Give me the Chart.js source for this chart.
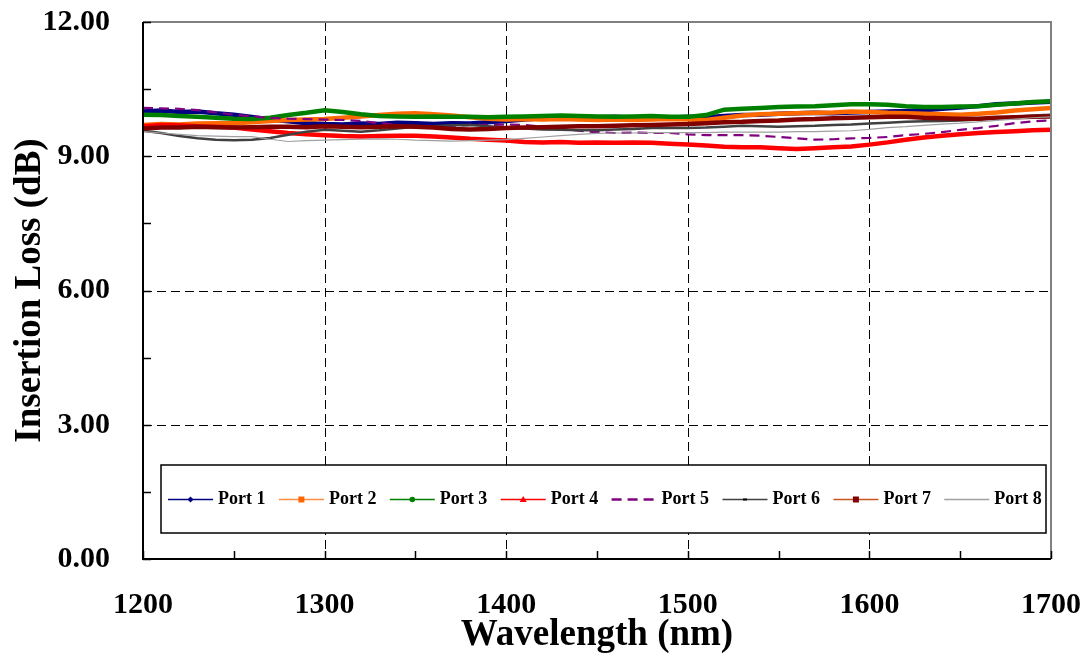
<!DOCTYPE html>
<html lang="en">
<head>
<meta charset="UTF-8">
<title>Insertion Loss vs Wavelength</title>
<style>
  html, body { margin: 0; padding: 0; background: #fff; }
  #wrap { width: 1088px; height: 659px; }
</style>
</head>
<body>
<div id="wrap"><canvas id="chart" width="1088" height="659"></canvas></div>
<script src="https://cdn.jsdelivr.net/npm/chart.js@4.4.0/dist/chart.umd.min.js"></script>
<script>
// wavelength samples (nm)
const wavelengths = [1200, 1210, 1220, 1230, 1240, 1250, 1260, 1270, 1280, 1290,
  1300, 1310, 1320, 1330, 1340, 1350, 1360, 1370, 1380, 1390,
  1400, 1410, 1420, 1430, 1440, 1450, 1460, 1470, 1480, 1490,
  1500, 1510, 1520, 1530, 1540, 1550, 1560, 1570, 1580, 1590,
  1600, 1610, 1620, 1630, 1640, 1650, 1660, 1670, 1680, 1690, 1700];

// insertion loss per port (dB)
const port1 = [10.00, 10.02, 9.99, 10.00, 9.96, 9.93, 9.88, 9.82, 9.78, 9.74,
  9.72, 9.71, 9.73, 9.72, 9.75, 9.74, 9.72, 9.74, 9.73, 9.76,
  9.79, 9.82, 9.85, 9.86, 9.88, 9.87, 9.88, 9.86, 9.87, 9.86,
  9.88, 9.87, 9.90, 9.92, 9.93, 9.95, 9.96, 9.97, 9.96, 9.98,
  9.99, 10.00, 10.01, 10.03, 10.06, 10.09, 10.12, 10.16, 10.18, 10.20, 10.22];
const port2 = [9.70, 9.72, 9.71, 9.73, 9.74, 9.74, 9.76, 9.79, 9.81, 9.82,
  9.83, 9.86, 9.89, 9.92, 9.95, 9.96, 9.94, 9.91, 9.87, 9.84,
  9.82, 9.83, 9.82, 9.83, 9.82, 9.81, 9.82, 9.81, 9.82, 9.83,
  9.82, 9.81, 9.86, 9.91, 9.94, 9.95, 9.96, 9.97, 9.98, 10.00,
  9.99, 9.97, 9.96, 9.95, 9.94, 9.93, 9.95, 9.98, 10.02, 10.05, 10.08];
const port3 = [9.93, 9.92, 9.90, 9.88, 9.86, 9.84, 9.83, 9.86, 9.92, 9.97,
  10.03, 9.99, 9.94, 9.90, 9.89, 9.88, 9.89, 9.88, 9.88, 9.87,
  9.88, 9.89, 9.90, 9.91, 9.90, 9.89, 9.88, 9.89, 9.90, 9.88,
  9.88, 9.92, 10.04, 10.06, 10.08, 10.10, 10.11, 10.12, 10.14, 10.16,
  10.16, 10.15, 10.12, 10.10, 10.10, 10.11, 10.12, 10.15, 10.18, 10.21, 10.23];
const port4 = [9.67, 9.70, 9.69, 9.67, 9.66, 9.64, 9.60, 9.56, 9.52, 9.49,
  9.47, 9.45, 9.44, 9.45, 9.46, 9.46, 9.44, 9.42, 9.39, 9.37,
  9.35, 9.32, 9.31, 9.32, 9.30, 9.31, 9.30, 9.31, 9.30, 9.28,
  9.26, 9.24, 9.21, 9.20, 9.20, 9.18, 9.16, 9.18, 9.20, 9.22,
  9.26, 9.31, 9.37, 9.42, 9.46, 9.49, 9.52, 9.54, 9.56, 9.58, 9.59];
const port5 = [10.08, 10.07, 10.06, 10.03, 9.98, 9.93, 9.89, 9.86, 9.84, 9.83,
  9.82, 9.81, 9.79, 9.74, 9.70, 9.64, 9.66, 9.68, 9.70, 9.70,
  9.71, 9.70, 9.66, 9.61, 9.57, 9.54, 9.52, 9.53, 9.52, 9.52,
  9.49, 9.47, 9.47, 9.47, 9.46, 9.43, 9.40, 9.37, 9.38, 9.40,
  9.41, 9.43, 9.47, 9.50, 9.54, 9.59, 9.63, 9.68, 9.74, 9.78, 9.80];
const port6 = [9.57, 9.52, 9.45, 9.40, 9.37, 9.36, 9.37, 9.41, 9.48, 9.55,
  9.59, 9.57, 9.55, 9.58, 9.62, 9.66, 9.67, 9.69, 9.70, 9.67,
  9.64, 9.62, 9.60, 9.59, 9.58, 9.58, 9.60, 9.61, 9.63, 9.63,
  9.63, 9.64, 9.66, 9.68, 9.67, 9.66, 9.67, 9.68, 9.70, 9.71,
  9.73, 9.75, 9.77, 9.78, 9.79, 9.80, 9.82, 9.85, 9.88, 9.91, 9.93];
const port7 = [9.62, 9.64, 9.64, 9.66, 9.65, 9.64, 9.65, 9.66, 9.66, 9.65,
  9.67, 9.66, 9.65, 9.66, 9.67, 9.66, 9.64, 9.61, 9.60, 9.61,
  9.63, 9.64, 9.65, 9.66, 9.67, 9.67, 9.68, 9.69, 9.70, 9.71,
  9.72, 9.74, 9.76, 9.77, 9.79, 9.80, 9.82, 9.83, 9.85, 9.86,
  9.87, 9.88, 9.88, 9.86, 9.85, 9.84, 9.84, 9.86, 9.87, 9.88, 9.89];
const port8 = [9.55, 9.52, 9.49, 9.46, 9.45, 9.44, 9.44, 9.38, 9.33, 9.35,
  9.36, 9.37, 9.38, 9.39, 9.38, 9.36, 9.35, 9.34, 9.35, 9.36,
  9.37, 9.40, 9.43, 9.46, 9.49, 9.51, 9.52, 9.52, 9.53, 9.53,
  9.53, 9.53, 9.54, 9.54, 9.54, 9.54, 9.55, 9.55, 9.56, 9.57,
  9.60, 9.64, 9.66, 9.69, 9.72, 9.74, 9.77, 9.80, 9.83, 9.86, 9.88];

const portNames = ['Port 1', 'Port 2', 'Port 3', 'Port 4', 'Port 5', 'Port 6', 'Port 7', 'Port 8'];
const portValues = [port1, port2, port3, port4, port5, port6, port7, port8];

// line styling
const lineColors = ['#000080', '#FF6A00', '#008000', '#FF0000', '#800080', '#404040', '#800000', '#A0A0A0'];
const lineWidths = [4.5, 4.5, 4.5, 4.5, 2.2, 2.5, 4.5, 1.2];
const keyLineColors = ['#000080', '#FF8C40', '#008000', '#FF0000', '#800080', '#404040', '#C8561E', '#A0A0A0'];
const keyMarkers = ['diamond', 'square', 'circle', 'triangle', null, 'dash', 'square', null];
const keyMarkerColors = ['#000080', '#FF6600', '#008000', '#FF0000', null, '#000000', '#800000', null];

const FONT = "'Liberation Serif', 'Times New Roman', serif";

const datasets = portNames.map((name, i) => ({
  label: name,
  data: wavelengths.map((w, j) => ({ x: w, y: portValues[i][j] })),
  borderColor: lineColors[i],
  borderWidth: lineWidths[i],
  borderDash: i === 4 ? [10, 6] : [],
  pointRadius: 0,
  tension: 0,
  fill: false,
  order: portNames.length - i
}));

function minorValues(scale) {
  const t = scale.ticks.map(k => k.value);
  const out = [];
  for (let i = 0; i < t.length - 1; i++) out.push((t[i] + t[i + 1]) / 2);
  return out;
}

// fixed axis box sizes, no extra room for overhanging labels
function fixBox(s, w, h) {
  if (w !== null) s.width = w;
  if (h !== null) s.height = h;
  s.paddingTop = 0; s.paddingBottom = 0; s.paddingLeft = 0; s.paddingRight = 0;
}

// dashed grid, plot frame and inward tick marks
const framePlugin = {
  id: 'framePlugin',
  beforeDatasetsDraw(chart) {
    const { ctx, chartArea: a, scales: { x, y } } = chart;
    ctx.save();
    ctx.strokeStyle = '#000';
    ctx.lineWidth = 1;
    ctx.setLineDash([9, 5]);
    x.ticks.forEach(t => {
      if (t.value <= x.min || t.value >= x.max) return;
      const px = Math.round(x.getPixelForValue(t.value)) + 0.5;
      ctx.beginPath(); ctx.moveTo(px, a.top); ctx.lineTo(px, a.bottom); ctx.stroke();
    });
    y.ticks.forEach(t => {
      if (t.value <= y.min || t.value >= y.max) return;
      const py = Math.round(y.getPixelForValue(t.value)) + 0.5;
      ctx.beginPath(); ctx.moveTo(a.left, py); ctx.lineTo(a.right, py); ctx.stroke();
    });
    ctx.restore();
  },
  afterDatasetsDraw(chart) {
    const { ctx, chartArea: a, scales: { x, y } } = chart;
    ctx.save();
    ctx.setLineDash([]);
    // top and right edges in grey
    ctx.strokeStyle = '#808080';
    ctx.lineWidth = 2;
    ctx.beginPath(); ctx.moveTo(a.left, a.top); ctx.lineTo(a.right, a.top); ctx.lineTo(a.right, a.bottom); ctx.stroke();
    // axes in black
    ctx.strokeStyle = '#000';
    ctx.beginPath(); ctx.moveTo(a.left, a.top); ctx.lineTo(a.left, a.bottom); ctx.lineTo(a.right, a.bottom); ctx.stroke();
    // tick marks pointing into the plot
    ctx.lineWidth = 1.5;
    const tick = 8;
    y.ticks.map(t => t.value).concat(minorValues(y)).forEach(v => {
      const py = Math.round(y.getPixelForValue(v)) + 0.5;
      ctx.beginPath(); ctx.moveTo(a.left, py); ctx.lineTo(a.left + tick, py); ctx.stroke();
    });
    x.ticks.map(t => t.value).concat(minorValues(x)).forEach(v => {
      const px = Math.round(x.getPixelForValue(v)) + 0.5;
      ctx.beginPath(); ctx.moveTo(px, a.bottom); ctx.lineTo(px, a.bottom - tick); ctx.stroke();
    });
    ctx.restore();
  }
};

function drawMarker(ctx, type, cx, cy, color) {
  ctx.fillStyle = color;
  ctx.beginPath();
  if (type === 'diamond') {
    ctx.moveTo(cx, cy - 3); ctx.lineTo(cx + 3, cy); ctx.lineTo(cx, cy + 3); ctx.lineTo(cx - 3, cy);
  } else if (type === 'square') {
    ctx.rect(cx - 3, cy - 3, 6, 6);
  } else if (type === 'circle') {
    ctx.arc(cx, cy, 2.8, 0, Math.PI * 2);
  } else if (type === 'triangle') {
    ctx.moveTo(cx, cy - 3.5); ctx.lineTo(cx + 3.5, cy + 2.5); ctx.lineTo(cx - 3.5, cy + 2.5);
  } else if (type === 'dash') {
    ctx.rect(cx - 2, cy - 1, 4, 2);
  }
  ctx.closePath();
  ctx.fill();
}

// boxed single-row key inside the plot area
const keyPlugin = {
  id: 'keyPlugin',
  afterDatasetsDraw(chart) {
    const { ctx, chartArea: a } = chart;
    const left = a.left + 18, right = a.right - 5;
    const top = a.top + 443, bottom = a.top + 511;
    const cy = (top + bottom) / 2 + 0.5;
    ctx.save();
    ctx.fillStyle = '#fff';
    ctx.fillRect(left, top, right - left, bottom - top);
    ctx.strokeStyle = '#000';
    ctx.lineWidth = 1.5;
    ctx.strokeRect(left, top, right - left, bottom - top);
    const step = 110.9;
    ctx.font = 'bold 18px ' + FONT;
    ctx.textBaseline = 'middle';
    portNames.forEach((name, i) => {
      const x0 = left + 7 + i * step;
      ctx.strokeStyle = keyLineColors[i];
      ctx.lineWidth = i === 4 ? 2.5 : 1.5;
      ctx.setLineDash(i === 4 ? [10, 6] : []);
      ctx.beginPath(); ctx.moveTo(x0, cy); ctx.lineTo(x0 + 45, cy); ctx.stroke();
      ctx.setLineDash([]);
      if (keyMarkers[i]) drawMarker(ctx, keyMarkers[i], x0 + 22.5, cy, keyMarkerColors[i]);
      ctx.fillStyle = '#000';
      ctx.fillText(name, x0 + 50, cy);
    });
    ctx.restore();
  }
};

new Chart(document.getElementById('chart'), {
  type: 'line',
  data: { datasets: datasets },
  options: {
    responsive: false,
    animation: false,
    layout: { padding: { left: 0, top: 22, right: 37, bottom: 0 } },
    plugins: { legend: { display: false }, tooltip: { enabled: false } },
    scales: {
      x: {
        type: 'linear',
        min: 1200,
        max: 1700,
        grid: { display: false, drawTicks: false },
        border: { display: false },
        ticks: {
          stepSize: 100,
          padding: 28,
          color: '#000',
          font: { family: FONT, size: 30, weight: 'bold' },
          callback: v => String(v)
        },
        title: {
          display: true,
          text: 'Wavelength (nm)',
          color: '#000',
          font: { family: FONT, size: 37, weight: 'bold' },
          padding: { top: 0, bottom: 1 }
        },
        afterFit: s => fixBox(s, null, 100)
      },
      y: {
        min: 0,
        max: 12,
        grid: { display: false, drawTicks: false },
        border: { display: false },
        ticks: {
          stepSize: 3,
          padding: 33,
          color: '#000',
          font: { family: FONT, size: 30, weight: 'bold' },
          callback: v => v.toFixed(2)
        },
        title: {
          display: true,
          text: 'Insertion Loss (dB)',
          color: '#000',
          font: { family: FONT, size: 37, weight: 'bold' },
          padding: { top: 8, bottom: 0 }
        },
        afterFit: s => fixBox(s, 143, null)
      }
    }
  },
  plugins: [framePlugin, keyPlugin]
});
</script>
</body>
</html>
